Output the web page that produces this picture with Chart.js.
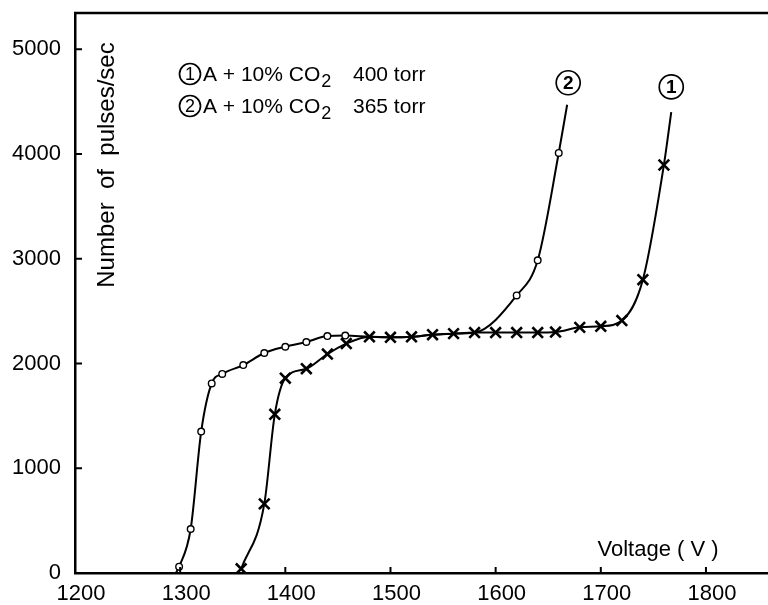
<!DOCTYPE html>
<html>
<head>
<meta charset="utf-8">
<script src="https://cdn.jsdelivr.net/npm/chart.js@4.4.1/dist/chart.umd.min.js"></script>
<style>
  html, body { margin: 0; padding: 0; background: #fff; }
  #wrap { width: 768px; height: 605px; }
</style>
</head>
<body>
<div id="wrap"><canvas id="chart"></canvas></div>
<script>
const xTicks = [1200, 1300, 1400, 1500, 1600, 1700, 1800];
const yTicks = [0, 1000, 2000, 3000, 4000, 5000];

// curve 1 : A + 10% CO2, 400 torr (crosses)
const volt1 = [1358, 1380, 1390, 1400, 1420, 1440, 1458, 1480, 1500, 1520, 1540, 1560, 1580, 1600, 1620, 1640, 1657, 1680, 1700, 1720, 1740, 1760];
const rate1 = [40, 660, 1515, 1860, 1950, 2090, 2190, 2255, 2250, 2255, 2275, 2285, 2295, 2295, 2295, 2295, 2300, 2345, 2355, 2410, 2800, 3895];
const end1 = [1767, 4400];

// curve 2 : A + 10% CO2, 365 torr (open circles)
const volt2 = [1299, 1310, 1320, 1330, 1340, 1360, 1380, 1400, 1420, 1440, 1457, 1620, 1640, 1660];
const rate2 = [60, 420, 1350, 1810, 1900, 1985, 2100, 2160, 2205, 2262, 2267, 2650, 2985, 4010];
const start2 = [1296, 0];
const end2 = [1668, 4470];
// curve 2 runs along curve 1 between these voltages
const shared = [1480, 1580];

const curveTags = [
  { text: '1', x: 1767, y: 4640 },
  { text: '2', x: 1669, y: 4680 }
];

const FONT = '"Liberation Sans", Arial, sans-serif';
const INK = '#000';

const pts1 = volt1.map((v, i) => ({ x: v, y: rate1[i], m: true }));
pts1.push({ x: end1[0], y: end1[1], m: false });

const pts2 = [{ x: start2[0], y: start2[1], m: false }];
volt2.forEach((v, i) => { if (v < shared[0]) pts2.push({ x: v, y: rate2[i], m: true }); });
volt1.forEach((v, i) => { if (v >= shared[0] && v <= shared[1]) pts2.push({ x: v, y: rate1[i], m: false }); });
volt2.forEach((v, i) => { if (v > shared[1]) pts2.push({ x: v, y: rate2[i], m: true }); });
pts2.push({ x: end2[0], y: end2[1], m: false });

function circledNum(ctx, cx, cy, n, r) {
  ctx.beginPath();
  ctx.arc(cx, cy, r, 0, Math.PI * 2);
  ctx.lineWidth = 1.7;
  ctx.strokeStyle = INK;
  ctx.stroke();
  ctx.font = (r > 11 ? 'bold 19px ' : '18px ') + FONT;
  ctx.textAlign = 'center';
  ctx.textBaseline = 'middle';
  ctx.fillText(n, cx, cy + 1);
}

function legendRow(ctx, y, n, torr) {
  circledNum(ctx, 190, y, n, 10.5);
  ctx.font = '21px ' + FONT;
  ctx.textAlign = 'left';
  ctx.textBaseline = 'middle';
  const main = 'A + 10% CO';
  ctx.fillText(main, 203, y + 1);
  const w = ctx.measureText(main).width;
  ctx.font = '18px ' + FONT;
  ctx.fillText('2', 203 + w + 1, y + 8);
  ctx.font = '21px ' + FONT;
  ctx.fillText(torr, 353, y + 1);
}

const decor = {
  id: 'decor',
  afterDraw(chart) {
    const { ctx, chartArea: a, scales: { x, y } } = chart;
    ctx.save();
    ctx.fillStyle = INK;
    ctx.strokeStyle = INK;

    // top frame line
    ctx.lineWidth = 2.5;
    ctx.beginPath();
    ctx.moveTo(a.left - 1, a.top);
    ctx.lineTo(a.right, a.top);
    ctx.stroke();

    // inward tick marks
    ctx.lineWidth = 2;
    ctx.beginPath();
    xTicks.slice(1).forEach(v => {
      const px = x.getPixelForValue(v);
      ctx.moveTo(px, a.bottom);
      ctx.lineTo(px, a.bottom - 6);
    });
    yTicks.slice(1).forEach(v => {
      const py = y.getPixelForValue(v);
      ctx.moveTo(a.left, py);
      ctx.lineTo(a.left + 7, py);
    });
    ctx.stroke();

    // axis titles inside the frame
    ctx.font = '24px ' + FONT;
    ctx.textAlign = 'center';
    ctx.textBaseline = 'middle';
    ctx.save();
    ctx.translate(107, 165);
    ctx.rotate(-Math.PI / 2);
    ctx.fillText('Number  of  pulses/sec', 0, 0);
    ctx.restore();
    ctx.font = '22px ' + FONT;
    ctx.fillText('Voltage ( V )', 658, 550);

    // key
    legendRow(ctx, 74, '1', '400 torr');
    legendRow(ctx, 106, '2', '365 torr');

    // curve numbers
    curveTags.forEach(t => circledNum(ctx, x.getPixelForValue(t.x), y.getPixelForValue(t.y), t.text, 12));
    ctx.restore();
  }
};

const axisCommon = {
  type: 'linear',
  grid: { display: false, drawTicks: false },
  border: { display: true, color: INK, width: 2.5 }
};

new Chart(document.getElementById('chart'), {
  type: 'line',
  data: {
    datasets: [
      {
        label: 'A + 10% CO2 400 torr',
        data: pts1,
        borderColor: INK,
        borderWidth: 2,
        cubicInterpolationMode: 'monotone',
        pointStyle: 'crossRot',
        pointRadius: c => (c.raw && c.raw.m ? 7.5 : 0),
        pointBorderWidth: 2.6,
        pointBorderColor: INK,
        pointBackgroundColor: INK,
        fill: false
      },
      {
        label: 'A + 10% CO2 365 torr',
        data: pts2,
        borderColor: INK,
        borderWidth: 2,
        cubicInterpolationMode: 'monotone',
        pointStyle: 'circle',
        pointRadius: c => (c.raw && c.raw.m ? 3.3 : 0),
        pointBorderWidth: 1.4,
        pointBorderColor: INK,
        pointBackgroundColor: '#fff',
        fill: false
      }
    ]
  },
  options: {
    responsive: true,
    maintainAspectRatio: false,
    animation: false,
    layout: { autoPadding: false, padding: { top: 13, right: 0, left: 0, bottom: 0 } },
    plugins: { legend: { display: false }, tooltip: { enabled: false } },
    scales: {
      x: {
        ...axisCommon,
        min: 1200,
        max: 1859,
        afterBuildTicks: s => { s.ticks = xTicks.map(v => ({ value: v })); },
        afterFit: s => { s.height = 32; s.paddingLeft = 0; s.paddingRight = 0; },
        ticks: { color: INK, font: { family: FONT, size: 22 }, padding: 8, labelOffset: 6, maxRotation: 0, autoSkip: false, callback: v => String(v) }
      },
      y: {
        ...axisCommon,
        min: 0,
        max: 5346,
        afterBuildTicks: s => { s.ticks = yTicks.map(v => ({ value: v })); },
        afterFit: s => { s.width = 75; s.paddingTop = 0; s.paddingBottom = 0; },
        ticks: { color: INK, font: { family: FONT, size: 22 }, padding: 14, autoSkip: false, callback: v => String(v) }
      }
    }
  },
  plugins: [decor]
});
</script>
</body>
</html>
